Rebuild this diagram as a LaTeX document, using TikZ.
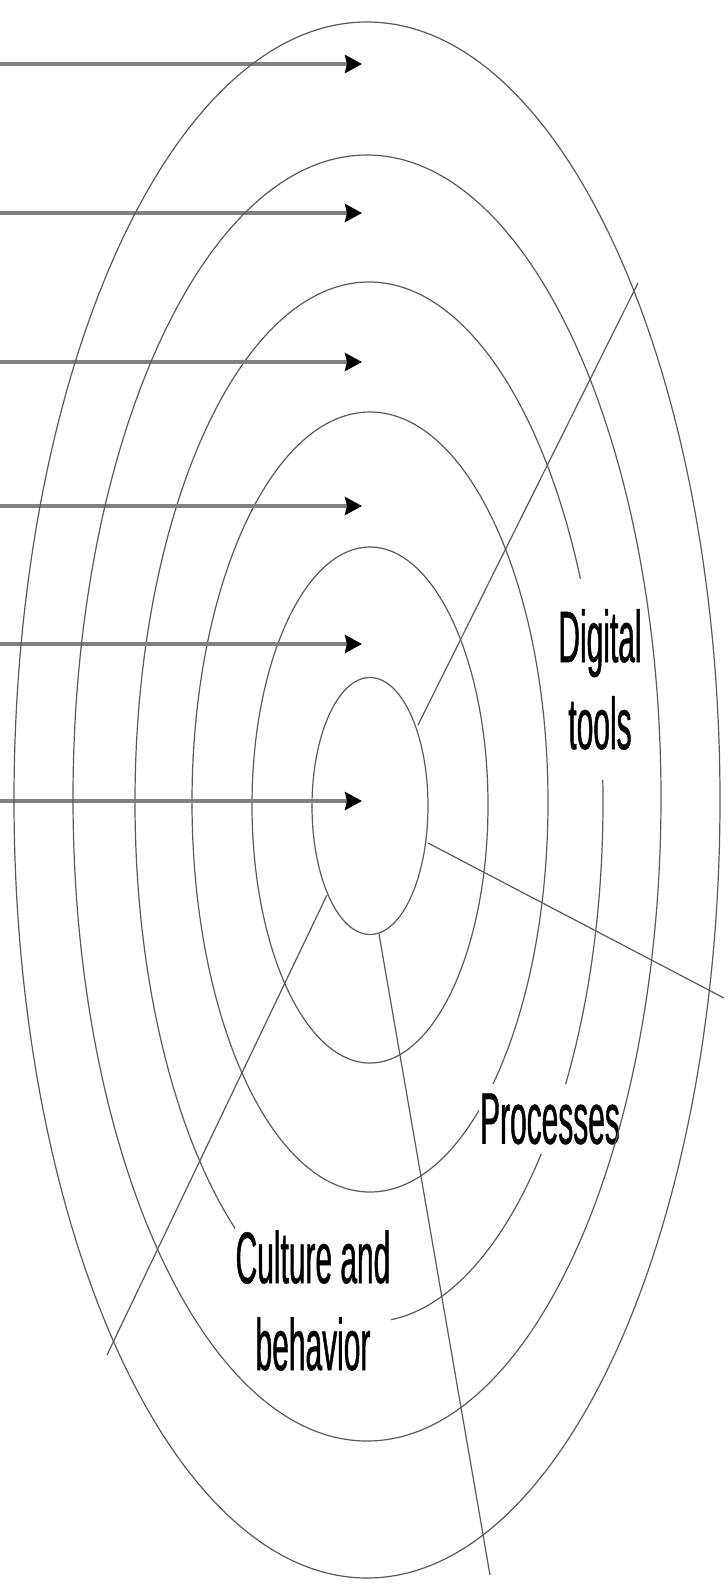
\documentclass[tikz,border=0pt]{standalone}
\usepackage{fontspec}
\usepackage{tikz}
\usetikzlibrary{arrows.meta}
\newfontfamily\narrowsans[FakeStretch=0.41,FakeBold=0.6]{Liberation Sans}

\begin{document}
\begin{tikzpicture}[x=1pt,y=-1pt,
  ring/.style={black!65,line width=1.2pt},
  spoke/.style={black!65,line width=1.2pt},
  feed/.style={black!50,line width=4.5pt,
    -{Stealth[black,length=17pt,width=18pt,inset=2pt]}},
  tag/.style={fill=white,align=center,inner xsep=1pt,inner ysep=10pt,
    font=\narrowsans\fontsize{73}{87}\selectfont}]
  \useasboundingbox (0,0) rectangle (728,1596);
  \draw[ring] (370,806) ellipse [x radius=58,y radius=128.5];
  \draw[ring] (370,805) ellipse [x radius=118,y radius=258];
  \draw[ring] (370,802) ellipse [x radius=178,y radius=390];
  \draw[ring] (369,802) ellipse [x radius=234,y radius=520];
  \draw[spoke] (418,725) -- (638,283);
  \draw[spoke] (428,843) -- (724,998);
  \draw[spoke] (379,934) -- (490,1575);
  \draw[spoke] (327,895) -- (107,1355);
  \draw[feed] (0,64) -- (362,64);
  \draw[feed] (0,213) -- (362,213);
  \draw[feed] (0,362) -- (362,362);
  \draw[feed] (0,506) -- (362,506);
  \draw[feed] (0,644) -- (362,644);
  \draw[feed] (0,801) -- (362,801);
  \node[tag,inner ysep=30pt] (tools) at (600,679.5) {Digital\\tools};
  \node[tag] (process) at (550,1119) {Processes};
  \node[tag] (culture) at (313,1300.5) {Culture and\\behavior};
  \draw[ring] (367,798) ellipse [x radius=294,y radius=643];
  \draw[ring] (367,800) ellipse [x radius=353,y radius=778];
\end{tikzpicture}
\end{document}
